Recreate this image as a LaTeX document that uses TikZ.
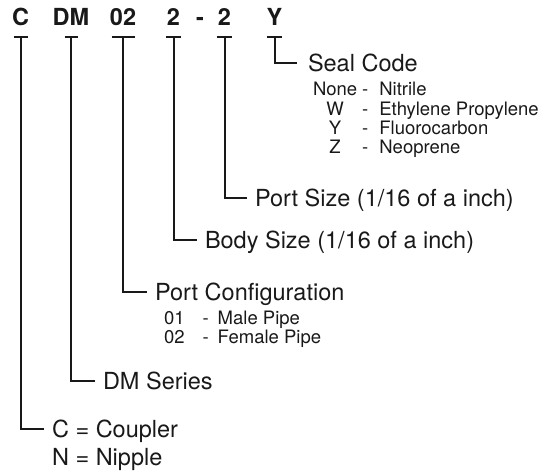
\documentclass[tikz,border=0pt]{standalone}
\usepackage{fontspec}
\setmainfont{TeX Gyre Heros}
\usetikzlibrary{positioning}

\begin{document}
\begin{tikzpicture}[
        x=1bp, y=-1bp,
        every node/.style={text=black!90},
        code/.style={
            font=\fontsize{23.5bp}{28bp}\selectfont\bfseries, anchor=south,
            inner xsep=0pt, inner ysep=11bp, text depth=0pt, outer sep=0pt
        },
        lbl/.style={
            font=\fontsize{23.5bp}{28bp}\selectfont, anchor=west,
            inner xsep=8bp, inner ysep=0pt, text height=16.9bp,
            text depth=0pt, outer sep=0pt
        },
        lst/.style={
            font=\fontsize{18.5bp}{19bp}\selectfont, anchor=base west,
            inner sep=0pt, outer sep=0pt
        },
        lead/.style={line width=2bp, draw=black!90}
        ]

    \useasboundingbox (0,0) rectangle (550,473);

    % --- Codigo de pedido ---
        \node[code] (c)    at (20.7,37)  {C};
        \node[code] (dm)   at (71,37)    {DM};
        \node[code] (port) at (123,37)   {02};
        \node[code] (body) at (173.5,37) {2};
        \node[code] (dash) at (200,37)   {-};
        \node[code] (size) at (224.5,37) {2};
        \node[code] (seal) at (274.5,37) {Y};

        \foreach \n/\w in {c/7, dm/6.5, port/11.5, body/7.5, size/7.5, seal/7.5}
            \draw[lead] ([xshift=-\w bp]\n.south) -- ([xshift=\w bp]\n.south);

    % --- Significado de cada campo ---
        \node[lbl, inner xsep=11bp] (sealcode) at (297,63) {Seal Code};
        \node[lst] (sealtypes) at (313,96)
            {\begin{tabular}[t]{@{}c@{\hspace{5bp}}c@{\hspace{11bp}}l@{}}
                None & - & Nitrile\\
                W & - & Ethylene Propylene\\
                Y & - & Fluorocarbon\\
                Z & - & Neoprene
            \end{tabular}};

        \node[lbl] (portsize) at (247,198) {Port Size (1/16 of a inch)};
        \node[lbl] (bodysize) at (197,240) {Body Size (1/16 of a inch)};

        \node[lbl] (portconf) at (147,292) {Port Configuration};
        \node[lst] (porttypes) at (164,324)
            {\begin{tabular}[t]{@{}l@{\hspace{18bp}}c@{\hspace{9bp}}l@{}}
                01 & - & Male Pipe\\
                02 & - & Female Pipe
            \end{tabular}};

        \node[lbl] (series) at (95,381) {DM Series};

        \node[lbl] (coupler) at (44,429) {C = Coupler};
        \node[lbl, anchor=base west] (nipple) at ([yshift=-28.5bp]coupler.base west) {N = Nipple};

    % --- Lineas guia ---
        \draw[lead] (seal.south) |- (sealcode.west);
        \draw[lead] (size.south) |- (portsize.west);
        \draw[lead] (body.south) |- (bodysize.west);
        \draw[lead] (port.south) |- (portconf.west);
        \draw[lead] (dm.south)   |- (series.west);
        \draw[lead] (c.south)    |- (coupler.west);

    \end{tikzpicture}
\end{document}
